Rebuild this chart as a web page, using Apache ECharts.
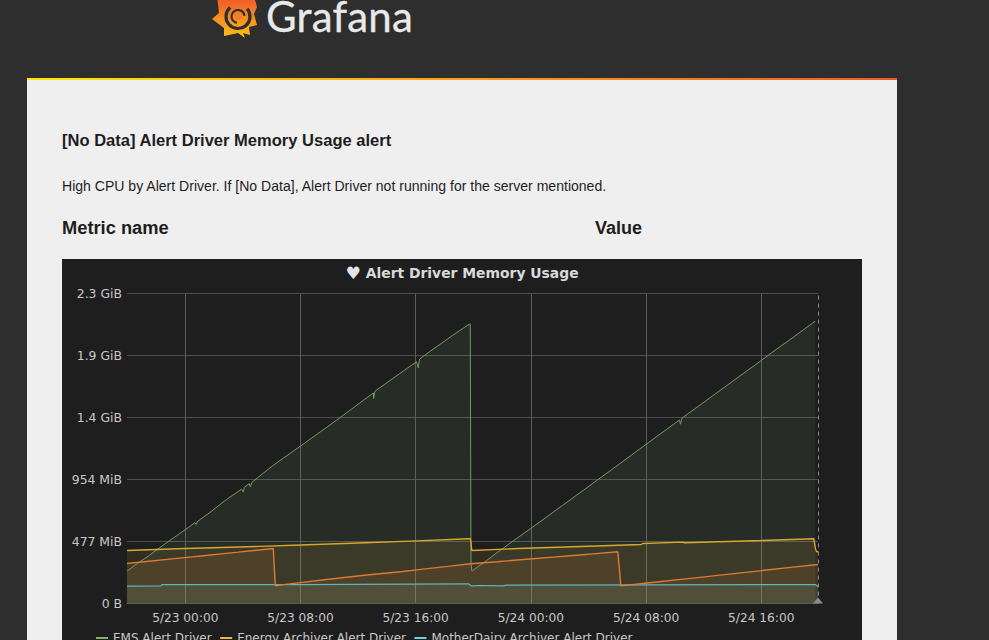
<!DOCTYPE html>
<html><head><meta charset="utf-8">
<style>
html,body{margin:0;padding:0;width:989px;height:640px;overflow:hidden;background:#2e2e2e;font-family:"Liberation Sans",Arial,sans-serif;}
#card{position:absolute;left:27px;top:78px;width:870px;height:600px;background:#efefef;}
#bar{position:absolute;left:0;top:0;width:870px;height:2px;background:linear-gradient(90deg,#ffe800,#f9a01c 50%,#ea5a2b);}
.t{position:absolute;color:#1e1e1e;white-space:nowrap;line-height:1;}
#panel{position:absolute;left:62px;top:259px;width:800px;height:420px;}
#logoText{position:absolute;left:266px;top:0;font:400 42px Lato,sans-serif;color:#e9e9ea;line-height:33px;letter-spacing:.2px;-webkit-text-stroke:.3px #e9e9ea}
</style></head><body>
<svg width="60" height="45" style="position:absolute;left:205px;top:0" viewBox="205 0 60 45">
<defs><linearGradient id="g" x1="0" y1="0" x2="0" y2="1"><stop offset="0" stop-color="#f0522b"/><stop offset="1" stop-color="#fdc316"/></linearGradient></defs>
<polygon fill="url(#g)" points="217,-4 254,-4 257,7 254,14 257,25 249,27 250,35 243,33 245,38 238,33 224,36 224,28 212,19 219,13"/>
<circle cx="238" cy="16.5" r="12" fill="none" stroke="#2e2e2e" stroke-width="3.2" stroke-dasharray="56 20" transform="rotate(-40 238 16.5)"/>
<circle cx="238" cy="16.5" r="6.5" fill="none" stroke="#2e2e2e" stroke-width="2.2" stroke-dasharray="28 13" transform="rotate(100 238 16.5)"/>
<circle cx="238" cy="16.5" r="3.4" fill="#f37a2a"/>
</svg>
<div id="logoText">Grafana</div>
<div id="card"><div id="bar"></div></div>
<div class="t" style="left:62px;top:133px;font-size:16.55px;font-weight:700">[No Data] Alert Driver Memory Usage alert</div>
<div class="t" style="left:62px;top:179px;font-size:14.05px">High CPU by Alert Driver. If [No Data], Alert Driver not running for the server mentioned.</div>
<div class="t" style="left:62px;top:219px;font-size:18.3px;font-weight:700">Metric name</div>
<div class="t" style="left:595px;top:219px;font-size:18px;font-weight:700">Value</div>
<div id="panel"></div>
<script src="https://cdn.jsdelivr.net/npm/echarts@6/dist/echarts.min.js"></script>
<script>
const titleHeart = '\u2665';
const titleText = 'Alert Driver Memory Usage';
const seriesNames = ['EMS Alert Driver','Energy Archiver Alert Driver','MotherDairy Archiver Alert Driver'];
const orangeName = 'Alert Driver';
const yTickValues = [0,500,1000,1500,2000,2500];
const yTickLabels = ['0 B','477 MiB','954 MiB','1.4 GiB','1.9 GiB','2.3 GiB'];
const xTickHours = [0,8,16,24,32,40];
const xTickLabels = ['5/23 00:00','5/23 08:00','5/23 16:00','5/24 00:00','5/24 08:00','5/24 16:00'];
const xStartHour = -4.05, xEndHour = 43.94;
// hours after 5/23 00:00, megabytes
const greenHours = [-4.05,-3.33,-2.5,-1.76,0,.67,.76,.83,1.71,2.87,3.91,4.03,4.1,4.44,4.51,4.63,6.11,7.99,9.81,11.2,13.06,13.08,13.17,14.9,16.06,16.18,16.27,17.2,18.6,19.72,19.79,19.84,19.9,20.9,22.06,22.75,24,25.53,26.92,28.88,30.16,31.99,33.4,34.32,34.39,34.49,35.94,37.56,38.95,39.97,40.69,41.85,43.75];
const greenValues = [261,323,388,452,596,652,637,660,735,840,922,900,938,966,941,978,1115,1269,1420,1538,1698,1653,1712,1855,1950,1900,1972,2050,2165,2253,2253,320,261,345,445,503,606,735,852,1018,1126,1283,1402,1480,1446,1495,1617,1754,1871,1957,2020,2116,2277];
const yellowHours = [-4.05,0,5.2,7.99,12.5,16.06,19.7,19.8,19.9,23.1,27.96,31.66,31.78,34.56,34.66,40,43.65,43.77,43.85,43.94];
const yellowValues = [427,443,461,472,490,505,522,522,427,443,462,476,484,495,490,508,522,438,417,417];
const cyanHours = [-4.05,-1.7,-1.62,7.5,19.65,19.88,20.44,22.06,22.3,43.75,43.94];
const cyanValues = [140,142,153,153,159,142,145,142,148,153,137];
const orangeHours = [-4.05,.44,.9,3.68,6.11,6.25,6.57,7.96,9.81,12.6,15.09,16.06,18.38,19.81,21.66,24.37,25.53,27.6,28.3,30.04,30.25,32.24,35.25,36.99,39.53,42.19,43.94];
const orangeValues = [323,376,381,414,444,142,148,168,193,230,258,271,301,320,337,363,374,393,400,417,142,167,205,227,259,293,315];

const pts = (hs,vs) => hs.map((h,i)=>[h,vs[i]]);
const mk = (name,color,lineColor,width,hs,vs,extra) => Object.assign({
  name,type:'line',data:pts(hs,vs),symbol:'none',smooth:false,animation:false,
  lineStyle:{color:lineColor,width},itemStyle:{color},areaStyle:{color,opacity:.1}
},extra||{});

const chart = echarts.init(document.getElementById('panel'),null,{renderer:'svg'});
chart.setOption({
  animation:false,backgroundColor:'#1f1e1f',
  title:{text:'{h|'+titleHeart+'} {t|'+titleText+'}',left:'center',top:5,padding:[0,2,0,0],
    textStyle:{rich:{h:{color:'#e4e4e4',fontFamily:'DejaVu Sans',fontSize:17,fontWeight:'bold'},
      t:{color:'#d8d9da',fontFamily:'DejaVu Sans',fontSize:13.9,fontWeight:'bold'}}}},
  legend:{show:true,data:seriesNames,left:34,top:373,padding:0,itemGap:8.5,itemWidth:12,itemHeight:2,icon:'rect',
    textStyle:{color:'#c8c8c8',fontFamily:'DejaVu Sans',fontSize:12}},
  grid:{left:65,right:44,top:34.5,height:310,containLabel:false},
  xAxis:{type:'value',min:xStartHour,max:xEndHour,
    axisLine:{show:true,onZero:false,lineStyle:{color:'#4a4d52',width:1}},axisTick:{show:false,customValues:xTickHours},
    splitLine:{show:true,lineStyle:{color:'#5a5a58',width:1}},
    axisLabel:{customValues:xTickHours,color:'#c8c8c8',fontFamily:'DejaVu Sans',fontSize:12.2,margin:8,hideOverlap:false,
      formatter:v=>xTickLabels[xTickHours.indexOf(v)]}},
  yAxis:{type:'value',min:0,max:2500,interval:500,
    axisLine:{show:false},axisTick:{show:false},
    splitLine:{show:true,lineStyle:{color:'#4e4e4e',width:1}},
    axisLabel:{color:'#c8c8c8',fontFamily:'DejaVu Sans',fontSize:12.4,margin:5,padding:[0,0,4,0],
      formatter:v=>yTickLabels[yTickValues.indexOf(v)]}},
  series:[
    mk(seriesNames[0],'#7EB26D','#6f9c60',1,greenHours,greenValues,{
      markLine:{silent:true,symbol:'none',label:{show:false},animation:false,
        lineStyle:{color:'#8c8c8c',type:[4,4],width:1},data:[{xAxis:xEndHour}]},
      markPoint:{silent:true,symbol:'triangle',symbolSize:[10,6],symbolOffset:[0,-3],label:{show:false},animation:false,
        itemStyle:{color:'#8c8c8c'},data:[{coord:[xEndHour,0]}]}
    }),
    mk(seriesNames[1],'#EAB839','#d6a82f',1.4,yellowHours,yellowValues),
    mk(seriesNames[2],'#6ED0E0','#62b4c0',1.2,cyanHours,cyanValues),
    mk(orangeName,'#EF843C','#dd7a35',1.4,orangeHours,orangeValues)
  ]
});
</script>
</body></html>
